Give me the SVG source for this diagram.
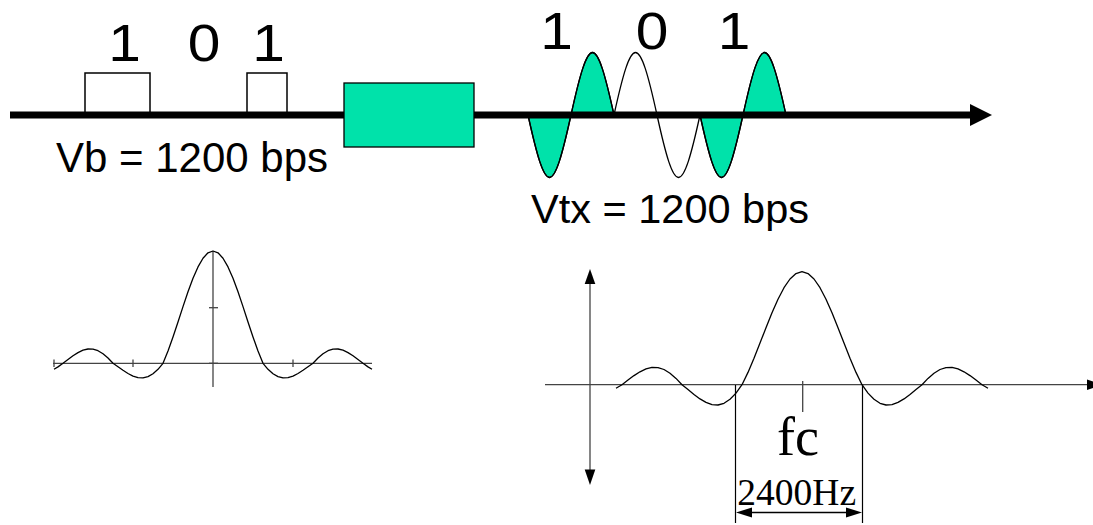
<svg xmlns="http://www.w3.org/2000/svg" width="1093" height="525" viewBox="0 0 1093 525">
<style>
.sans{font-family:"Liberation Sans",Arial,sans-serif;fill:#000}
.digit{font-family:"Liberation Sans",Arial,sans-serif;fill:#000;font-size:51px;text-anchor:middle}
.serif{font-family:"Liberation Serif","Times New Roman",serif;fill:#000}
.box{fill:#fff;stroke:#000;stroke-width:1.5}
.green{fill:#00E2AA;stroke:#000;stroke-width:1.3}
.curve{fill:none;stroke:#000;stroke-width:1.3;stroke-linejoin:round}
.axis{fill:none;stroke:#444;stroke-width:1.3}
.head{fill:#000;stroke:none}
</style>
<rect width="1093" height="525" fill="#fff"/>

<g id="bit-boxes">
  <rect class="box" x="85" y="73" width="65" height="42"/>
  <rect class="box" x="247" y="73" width="40" height="42"/>
</g>

<g id="bpsk-wave">
  <path class="green" d="M528,115 C546.25,198.3 552.75,198.3 571,115 Z"/>
  <path class="green" d="M571,115 C589.25,31.7 595.75,31.7 614,115 Z"/>
  <path class="green" d="M700,115 C718.25,198.3 724.75,198.3 743,115 Z"/>
  <path class="green" d="M743,115 C761.25,31.7 767.75,31.7 786,115 Z"/>
  <path class="curve" d="M528,115 C546.25,198.3 552.75,198.3 571,115 C589.25,31.7 595.75,31.7 614,115 C632.25,31.7 638.75,31.7 657,115 C675.25,198.3 681.75,198.3 700,115 C718.25,198.3 724.75,198.3 743,115 C761.25,31.7 767.75,31.7 786,115"/>
</g>

<g id="connectors">
  <line x1="10" y1="115" x2="972" y2="115" stroke="#000" stroke-width="7"/>
  <polygon class="head" points="970,104 992,115 970,126"/>
</g>

<g id="modulator">
  <rect class="green" x="344" y="83" width="130" height="64" stroke-width="1.5"/>
</g>

<g id="labels">
  <text class="digit" transform="translate(124.5,60.5) scale(1.15,1)">1</text>
  <text class="digit" transform="translate(204,60.5) scale(1.15,1)">0</text>
  <text class="digit" transform="translate(268.5,60.5) scale(1.15,1)">1</text>
  <text class="sans" font-size="42" x="56" y="172">Vb = 1200 bps</text>
  <text class="digit" transform="translate(556.5,48.5) scale(1.15,1)">1</text>
  <text class="digit" transform="translate(652,48.5) scale(1.15,1)">0</text>
  <text class="digit" transform="translate(734,48.5) scale(1.15,1)">1</text>
  <text class="sans" font-size="41.5" x="531" y="223">Vtx = 1200 bps</text>
</g>

<g id="baseband-spectrum">
  <line class="axis" x1="53" y1="363.3" x2="372" y2="363.3"/>
  <line class="axis" x1="213" y1="251" x2="213" y2="387"/>
  <line class="axis" x1="54" y1="359.5" x2="54" y2="367"/>
  <line class="axis" x1="133" y1="359.5" x2="133" y2="367"/>
  <line class="axis" x1="293" y1="359.5" x2="293" y2="367"/>
  <line class="axis" x1="209" y1="307.7" x2="218" y2="307.7"/>
  <line class="axis" x1="209" y1="363.3" x2="218" y2="363.3"/>
  <polyline class="curve" points="54,369.3 58,366.9 63,363.3 68,359.5 73,355.8 78,352.6 83,350.2 88,349 93,349.1 98,350.7 103,353.8 108,358 113,363.3 118,366.8 123,370.3 128,373.5 133,376.1 138,377.6 143,377.9 148,376.6 153,373.8 158,369.3 163,363.3 168,351 173,337 178,322 183,306.6 188,291.8 193,278.3 198,266.9 203,258.2 208,252.8 213,251 218,252.8 223,258.2 228,266.9 233,278.3 238,291.8 243,306.6 248,322 253,337 258,351 263,363.3 268,369.3 273,373.8 278,376.6 283,377.9 288,377.6 293,376.1 298,373.5 303,370.3 308,366.8 313,363.3 318,358 323,353.8 328,350.7 333,349.1 338,349 343,350.2 348,352.6 353,355.8 358,359.5 363,363.3 368,366.9 372,369.3"/>
</g>

<g id="passband-spectrum">
  <line class="axis" x1="545" y1="384.7" x2="1090" y2="384.7"/>
  <polygon class="head" points="1087,379.4 1102,384.7 1087,390"/>
  <line class="axis" x1="590" y1="282" x2="590" y2="471"/>
  <polygon class="head" points="590,269 595.3,284 584.7,284"/>
  <polygon class="head" points="590,485 595.3,469.5 584.7,469.5"/>
  <line class="axis" x1="802.7" y1="381" x2="802.7" y2="412"/>
  <polyline class="curve" points="616,388.3 622,384.7 628,380.1 634,375.6 640,371.8 646,368.9 652,367.4 658,367.6 664,369.5 670,373.2 676,378.4 682,384.7 688,389.6 694,394.4 700,398.9 706,402.4 712,404.6 718,405 724,403.3 730,399.3 736,393.1 742,384.7 748,372.4 754,358.3 760,343.1 766,327.7 772,312.8 778,299.2 784,287.7 790,279 796,273.6 802,271.7 808,273.6 814,279 820,287.7 826,299.2 832,312.8 838,327.7 844,343.1 850,358.3 856,372.4 862,384.7 868,393.1 874,399.3 880,403.3 886,405 892,404.6 898,402.4 904,398.9 910,394.4 916,389.6 922,384.7 928,378.4 934,373.2 940,369.5 946,367.6 952,367.4 958,368.9 964,371.8 970,375.6 976,380.1 982,384.7 988,388.3"/>
  <line x1="735.5" y1="385" x2="735.5" y2="523" stroke="#000" stroke-width="1.2"/>
  <line x1="862.5" y1="385" x2="862.5" y2="523" stroke="#000" stroke-width="1.2"/>
  <line x1="750" y1="512.5" x2="848" y2="512.5" stroke="#000" stroke-width="1.3"/>
  <polygon class="head" points="736,512.5 752,507.5 752,517.5"/>
  <polygon class="head" points="862,512.5 846,507.5 846,517.5"/>
  <text class="serif" font-size="54" text-anchor="middle" x="798" y="455">fc</text>
  <text class="serif" font-size="37.5" text-anchor="middle" x="796.7" y="505">2400Hz</text>
</g>
</svg>
